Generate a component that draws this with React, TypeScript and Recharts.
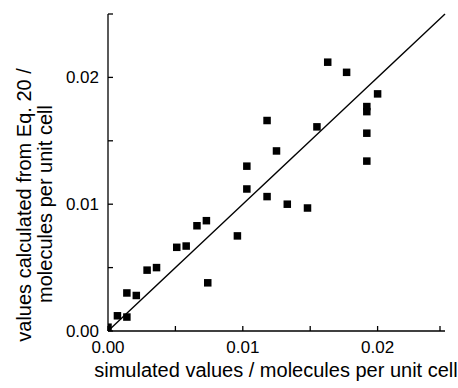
import React from 'react';
import { ScatterChart, Scatter, XAxis, YAxis, ReferenceLine } from 'recharts';

// simulated values (x) and values calculated from Eq. 20 (y)
const simulated = [
  0.0000, 0.0007, 0.0014, 0.0014, 0.0021, 0.0029, 0.0036, 0.0051, 0.0058, 0.0066,
  0.0073, 0.0074, 0.0096, 0.0103, 0.0103, 0.0118, 0.0118, 0.0125, 0.0133, 0.0148,
  0.0155, 0.0163, 0.0177, 0.0192, 0.0192, 0.0192, 0.0192, 0.0200,
];
const calculated = [
  0.0003, 0.0012, 0.0011, 0.0030, 0.0028, 0.0048, 0.0050, 0.0066, 0.0067, 0.0083,
  0.0087, 0.0038, 0.0075, 0.0112, 0.0130, 0.0106, 0.0166, 0.0142, 0.0100, 0.0097,
  0.0161, 0.0212, 0.0204, 0.0134, 0.0156, 0.0173, 0.0177, 0.0187,
];
const axisTicks = [0, 0.005, 0.01, 0.015, 0.02, 0.025];
const labelledTicks = [0, 0.01, 0.02];
const parityLine = [0, 0.025];

const points = simulated.map((x, i) => ({ x, y: calculated[i] }));

const FONT = '"Liberation Sans", Arial, sans-serif';

const hasLabel = (v: number) => labelledTicks.some((t) => Math.abs(t - v) < 1e-9);

const XTick = (props: any) => {
  const { x, y, payload } = props;
  const v = payload.value as number;
  return (
    <g>
      <line x1={x} x2={x} y1={y} y2={y - 5} stroke="#000" strokeWidth={1.3} />
      {hasLabel(v) && (
        <text x={x} y={y + 22} textAnchor="middle" fontSize={17} fontFamily={FONT} fill="#000">
          {v.toFixed(2)}
        </text>
      )}
    </g>
  );
};

const YTick = (props: any) => {
  const { x, y, payload } = props;
  const v = payload.value as number;
  return (
    <g>
      <line x1={x} x2={x + 5} y1={y} y2={y} stroke="#000" strokeWidth={1.3} />
      {hasLabel(v) && (
        <text x={x - 9} y={y + 6} textAnchor="end" fontSize={17} fontFamily={FONT} fill="#000">
          {v.toFixed(2)}
        </text>
      )}
    </g>
  );
};

const SquareDot = (props: any) => {
  const { cx, cy } = props;
  return <rect x={cx - 3.75} y={cy - 3.75} width={7.5} height={7.5} fill="#000" />;
};

const App: React.FC = () => {
  return (
    <div style={{ position: 'absolute', left: 0, top: 0, background: '#fff' }}>
      <ScatterChart width={458} height={388} margin={{ top: 14, right: 13, bottom: 0, left: 0 }}>
        <XAxis
          type="number"
          dataKey="x"
          domain={[0, 0.025]}
          ticks={axisTicks}
          height={57}
          tickSize={0}
          tickMargin={0}
          tick={<XTick />}
          stroke="#000"
          strokeWidth={1.3}
          allowDataOverflow
        />
        <YAxis
          type="number"
          dataKey="y"
          domain={[0, 0.025]}
          ticks={axisTicks}
          width={108}
          tickSize={0}
          tickMargin={0}
          tick={<YTick />}
          stroke="#000"
          strokeWidth={1.3}
          allowDataOverflow
        />
        <ReferenceLine
          segment={[
            { x: parityLine[0], y: parityLine[0] },
            { x: parityLine[1], y: parityLine[1] },
          ]}
          stroke="#000"
          strokeWidth={1.4}
        />
        <Scatter data={points} shape={<SquareDot />} isAnimationActive={false} />
        <text x={276} y={377} textAnchor="middle" fontSize={20} fontFamily={FONT} fill="#000">
          simulated values / molecules per unit cell
        </text>
        <text
          transform="translate(31 205) rotate(-90)"
          textAnchor="middle"
          fontSize={20}
          fontFamily={FONT}
          fill="#000"
        >
          values calculated from Eq. 20 /
        </text>
        <text
          transform="translate(52 204) rotate(-90)"
          textAnchor="middle"
          fontSize={20}
          fontFamily={FONT}
          fill="#000"
        >
          molecules per unit cell
        </text>
      </ScatterChart>
    </div>
  );
};

export default App;
